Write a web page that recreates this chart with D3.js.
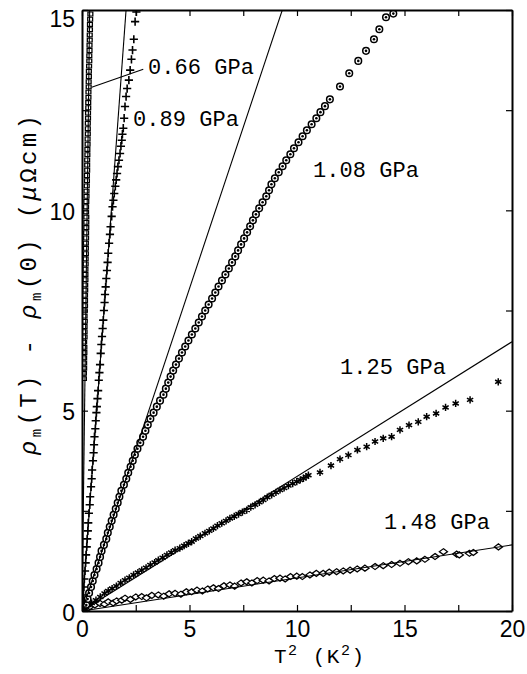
<!DOCTYPE html>
<html>
<head>
<meta charset="utf-8" />
<script src="https://d3js.org/d3.v7.min.js"></script>
<style>
  body { margin: 0; background: #fff; }
  text { fill: #000; }
</style>
</head>
<body>
<svg id="chart" width="527" height="674"></svg>
<script>
// ---- data: [T^2 (K^2), rho_m(T) - rho_m(0) (uOhm cm)] ----
var pressures = ["0.66 GPa", "0.89 GPa", "1.08 GPa", "1.25 GPa", "1.48 GPa"];
// slope A of the T^2 fit line for each pressure (uOhm cm / K^2)
var fitSlopes = [42, 7.32, 1.61, 0.336, 0.0825];

var squares066 = [
  [0.09,5.80],[0.09,5.93],[0.10,6.06],[0.10,6.19],[0.10,6.32],[0.11,6.45],[0.11,6.58],[0.10,6.71],
  [0.12,6.84],[0.12,6.97],[0.12,7.10],[0.13,7.23],[0.12,7.36],[0.13,7.49],[0.14,7.62],[0.14,7.75],
  [0.14,7.88],[0.15,8.01],[0.15,8.14],[0.16,8.27],[0.16,8.40],[0.16,8.53],[0.17,8.66],[0.17,8.79],
  [0.18,8.92],[0.18,9.05],[0.18,9.18],[0.19,9.31],[0.19,9.44],[0.20,9.57],[0.20,9.70],[0.20,9.83],
  [0.19,9.96],[0.19,10.09],[0.20,10.22],[0.21,10.35],[0.21,10.48],[0.22,10.61],[0.23,10.74],[0.23,10.87],
  [0.24,11.00],[0.24,11.13],[0.24,11.26],[0.25,11.39],[0.25,11.52],[0.26,11.65],[0.26,11.78],[0.27,11.91],
  [0.27,12.04],[0.27,12.17],[0.28,12.30],[0.28,12.43],[0.29,12.56],[0.29,12.69],[0.30,12.82],[0.30,12.95],
  [0.31,13.08],[0.31,13.21],[0.32,13.34],[0.32,13.47],[0.33,13.60],[0.34,13.73],[0.34,13.86],[0.35,13.99],
  [0.35,14.12],[0.36,14.25],[0.36,14.38],[0.37,14.51],[0.37,14.64],[0.38,14.77],[0.39,14.90]
];

var plus089 = [
  [0.03,0.10],[0.05,0.25],[0.07,0.40],[0.09,0.60],[0.11,0.80],[0.14,1.00],[0.17,1.20],[0.19,1.40],
  [0.22,1.60],[0.24,1.80],[0.27,2.00],[0.29,2.20],[0.32,2.44],[0.36,2.65],[0.38,2.85],[0.42,3.10],
  [0.45,3.30],[0.47,3.52],[0.51,3.75],[0.54,3.95],[0.56,4.15],[0.58,4.35],[0.62,4.55],[0.64,4.75],
  [0.67,4.95],[0.69,5.10],[0.72,5.30],[0.75,5.50],[0.78,5.76],[0.81,5.95],[0.84,6.15],[0.87,6.43],
  [0.90,6.65],[0.93,6.85],[0.96,7.05],[0.99,7.26],[1.02,7.50],[1.05,7.70],[1.07,7.90],[1.10,8.09],
  [1.13,8.30],[1.16,8.50],[1.19,8.70],[1.22,8.93],[1.26,9.18],[1.30,9.40],[1.33,9.59],[1.38,9.85],
  [1.42,10.09],[1.46,10.25],[1.50,10.42],[1.55,10.60],[1.59,10.76],[1.63,10.92],[1.67,11.09],[1.72,11.25],
  [1.77,11.42],[1.81,11.60],[1.85,11.75],[1.88,11.90],[1.92,12.05],[1.96,12.30],[2.00,12.59],[2.05,12.84],
  [2.10,13.04],[2.18,13.25],[2.24,13.50],[2.30,13.77],[2.35,14.00],[2.41,14.27],[2.47,14.71],[2.53,14.95]
];

var circles108 = [
  [0.20,0.15],[0.26,0.30],[0.33,0.45],[0.42,0.60],[0.50,0.75],[0.58,0.90],[0.68,1.05],[0.77,1.20],
  [0.84,1.35],[0.91,1.50],[1.02,1.65],[1.13,1.80],[1.20,1.95],[1.29,2.10],[1.38,2.25],[1.47,2.40],
  [1.57,2.55],[1.66,2.70],[1.74,2.85],[1.83,3.00],[1.95,3.15],[2.06,3.30],[2.15,3.45],[2.26,3.60],
  [2.36,3.75],[2.46,3.90],[2.58,4.05],[2.71,4.20],[2.84,4.35],[2.95,4.50],[3.06,4.65],[3.18,4.80],
  [3.33,4.95],[3.48,5.10],[3.63,5.25],[3.79,5.40],[3.90,5.55],[4.01,5.70],[4.12,5.85],[4.24,6.00],
  [4.37,6.15],[4.51,6.30],[4.65,6.45],[4.80,6.60],[4.95,6.75],[5.11,6.90],[5.27,7.05],[5.43,7.20],
  [5.58,7.35],[5.73,7.50],[5.89,7.65],[6.05,7.80],[6.20,7.95],[6.35,8.10],[6.51,8.25],[6.67,8.40],
  [6.83,8.55],[6.98,8.70],[7.13,8.85],[7.26,9.00],[7.40,9.15],[7.54,9.30],[7.68,9.45],[7.82,9.60],
  [7.95,9.75],[8.09,9.90],[8.24,10.05],[8.40,10.20],[8.57,10.35],[8.70,10.50],[8.81,10.65],[8.97,10.80],
  [9.15,10.95],[9.33,11.10],[9.50,11.25],[9.69,11.40],[9.86,11.55],[10.07,11.70],[10.26,11.85],[10.46,12.00],
  [10.68,12.15],[10.90,12.30],[11.09,12.45],[11.30,12.60],[11.53,12.77],
  [12.00,13.09],[12.43,13.42],[12.85,13.73],[13.21,13.98],[13.58,14.27],[13.83,14.52],[14.14,14.82],[14.48,14.91]
];

var stars125 = [
  [0.15,0.06],[0.29,0.15],[0.45,0.20],[0.65,0.27],[0.85,0.35],[1.05,0.44],[1.22,0.50],[1.40,0.56],
  [1.60,0.62],[1.80,0.70],[2.00,0.77],[2.20,0.83],[2.40,0.90],[2.60,0.96],[2.78,1.02],[2.98,1.08],
  [3.18,1.15],[3.38,1.21],[3.55,1.27],[3.75,1.33],[3.95,1.40],[4.15,1.46],[4.33,1.52],[4.55,1.57],
  [4.75,1.63],[4.95,1.69],[5.10,1.73],[5.30,1.81],[5.50,1.87],[5.72,1.94],[5.92,2.00],[6.11,2.06],
  [6.30,2.13],[6.50,2.19],[6.70,2.25],[6.88,2.31],[7.08,2.36],[7.28,2.42],[7.46,2.47],[7.66,2.52],
  [7.85,2.59],[8.05,2.65],[8.25,2.71],[8.43,2.77],[8.62,2.84],[8.82,2.90],[9.02,2.96],[9.21,3.02],
  [9.40,3.07],[9.60,3.13],[9.80,3.18],[9.99,3.23],[10.15,3.27],[10.30,3.31],[10.42,3.35],[10.53,3.39],
  [11.07,3.46],[11.58,3.63],[12.00,3.79],[12.39,3.89],[12.81,4.02],[13.24,4.10],[13.63,4.23],[14.01,4.31],
  [14.40,4.35],[14.79,4.52],[15.21,4.64],[15.64,4.72],[16.03,4.85],[16.47,4.93],[16.91,5.08],[17.38,5.18],
  [18.05,5.27],[19.36,5.72]
];

var diamonds148 = [
  [0.25,0.06],[0.37,0.11],[0.60,0.15],[0.84,0.19],[1.05,0.17],[1.22,0.23],[1.45,0.20],[1.61,0.25],
  [1.85,0.27],[2.00,0.32],[2.25,0.29],[2.50,0.35],[2.78,0.36],[3.00,0.33],[3.25,0.39],[3.55,0.40],
  [3.80,0.37],[4.05,0.43],[4.33,0.44],[4.60,0.42],[4.85,0.48],[5.10,0.48],[5.35,0.52],[5.60,0.50],
  [5.85,0.55],[6.11,0.58],[6.35,0.56],[6.60,0.63],[6.88,0.65],[7.10,0.62],[7.40,0.70],[7.66,0.73],
  [7.90,0.70],[8.15,0.76],[8.43,0.77],[8.70,0.75],[8.95,0.81],[9.21,0.82],[9.45,0.80],[9.70,0.86],
  [9.99,0.87],[10.25,0.86],[10.60,0.90],[10.90,0.94],[11.22,0.94],[11.50,0.97],[11.84,0.98],[12.15,1.00],
  [12.47,1.02],[12.80,1.05],[13.16,1.07],[13.63,1.11],[14.01,1.13],[14.40,1.16],[14.79,1.19],[15.18,1.23],
  [15.57,1.25],[15.95,1.29],[16.42,1.36],[16.81,1.48],[17.43,1.42],[17.55,1.40],[18.02,1.44],[18.20,1.46],
  [19.37,1.60]
];

var xTicks = [0, 2.5, 5, 7.5, 10, 12.5, 15, 17.5, 20];
var yTicks = [0, 2.5, 5, 7.5, 10, 12.5, 15];
var xLabelTicks = [0, 5, 10, 15, 20];
var yLabelTicks = [0, 5, 10, 15];

// ---- layout ----
var plotL = 82, plotR = 512, plotT = 10, plotB = 611;

var svg = d3.select("#chart");

var x = d3.scaleLinear().domain([0, 20]).range([plotL, plotR]);
var y = d3.scaleLinear().domain([0, 15]).range([plotB, plotT]);

svg.append("defs").append("clipPath").attr("id", "plotclip")
  .append("rect").attr("x", plotL).attr("y", plotT)
  .attr("width", plotR - plotL).attr("height", plotB - plotT);

var plot = svg.append("g").attr("clip-path", "url(#plotclip)");

// markers
function symbolSeries(data, type, size, sx, sy, sw) {
  var sym = d3.symbol().type(type).size(size);
  plot.append("g").selectAll("path").data(data).enter().append("path")
    .attr("d", sym)
    .attr("transform", function(d) {
      return "translate(" + x(d[0]) + "," + y(d[1]) + ") scale(" + sx + "," + sy + ")";
    })
    .attr("fill", "#fff")
    .attr("stroke", "#000")
    .attr("stroke-width", sw);
}

symbolSeries(diamonds148, d3.symbolDiamond2, 32, 1.15, 0.85, 1.3);
symbolSeries(stars125, d3.symbolAsterisk, 36, 1, 1, 1.5);

// circles with a dot in the middle
var cg = plot.append("g").selectAll("g").data(circles108).enter().append("g")
  .attr("transform", function(d) { return "translate(" + x(d[0]) + "," + y(d[1]) + ")"; });
cg.append("circle").attr("r", 3.3).attr("fill", "#fff").attr("stroke", "#000").attr("stroke-width", 1.5);
cg.append("circle").attr("r", 1.3).attr("fill", "#000");

symbolSeries(plus089, d3.symbolPlus, 24, 1, 1, 1.6);
symbolSeries(squares066, d3.symbolSquare2, 30, 1, 0.8, 1.3);

// T^2 fit lines through the origin
plot.append("g").selectAll("line").data(fitSlopes).enter().append("line")
  .attr("x1", x(0)).attr("y1", y(0))
  .attr("x2", x(20))
  .attr("y2", function(a) { return y(a * 20); })
  .attr("stroke", "#000")
  .attr("stroke-width", 1.1);

// ---- axes ----
function styleAxis(g) {
  g.selectAll(".domain").attr("stroke-width", 2);
  g.selectAll(".tick line").attr("stroke-width", 1.2);
  g.selectAll("text").attr("font-family", "'Liberation Sans', Arial, sans-serif")
    .attr("font-size", 23).attr("fill", "#000");
}

var fmtX = function(d) { return xLabelTicks.indexOf(d) >= 0 ? d : ""; };
var fmtY = function(d) { return yLabelTicks.indexOf(d) >= 0 ? d : ""; };

svg.append("g").attr("transform", "translate(0," + plotB + ")")
  .call(d3.axisBottom(x).tickValues(xTicks).tickFormat(fmtX).tickSizeInner(-6).tickSizeOuter(0).tickPadding(10))
  .call(styleAxis);
svg.append("g").attr("transform", "translate(0," + plotT + ")")
  .call(d3.axisTop(x).tickValues(xTicks).tickFormat("").tickSizeInner(-6).tickSizeOuter(0))
  .call(styleAxis);
var ya = svg.append("g").attr("transform", "translate(" + plotL + ",0)")
  .call(d3.axisLeft(y).tickValues(yTicks).tickFormat(fmtY).tickSizeInner(-6).tickSizeOuter(0).tickPadding(7))
  .call(styleAxis);
ya.selectAll("text").attr("dy", function(d) { return d === 15 ? "0.7em" : "0.4em"; });
svg.append("g").attr("transform", "translate(" + plotR + ",0)")
  .call(d3.axisRight(y).tickValues(yTicks).tickFormat("").tickSizeInner(-6).tickSizeOuter(0))
  .call(styleAxis);

// ---- series labels ----
var labelPos = [[148, 74], [133, 126], [313, 177], [340, 374], [384, 529]];
svg.append("g").selectAll("text").data(pressures).enter().append("text")
  .attr("x", function(d, i) { return labelPos[i][0]; })
  .attr("y", function(d, i) { return labelPos[i][1]; })
  .attr("font-family", "'Liberation Mono', 'DejaVu Sans Mono', monospace")
  .attr("font-size", 22)
  .attr("textLength", 106)
  .attr("lengthAdjust", "spacing")
  .text(function(d) { return d; });

// leader line from the 0.66 GPa label to its data
svg.append("line")
  .attr("x1", x(0.45)).attr("y1", y(13.07))
  .attr("x2", x(2.85)).attr("y2", y(13.52))
  .attr("stroke", "#000").attr("stroke-width", 1.1);

// ---- axis titles ----
var xt = svg.append("text")
  .attr("x", 274).attr("y", 663)
  .attr("font-family", "'Liberation Mono', 'DejaVu Sans Mono', monospace")
  .attr("font-size", 21)
  .attr("textLength", 90).attr("lengthAdjust", "spacing");
xt.append("tspan").text("T");
xt.append("tspan").attr("dy", -8).attr("font-size", 15).text("2");
xt.append("tspan").attr("dy", 8).text(" (K");
xt.append("tspan").attr("dy", -8).attr("font-size", 15).text("2");
xt.append("tspan").attr("dy", 8).text(")");

var yt = svg.append("text")
  .attr("transform", "translate(36,455) rotate(-90)")
  .attr("font-family", "'Liberation Mono', 'DejaVu Sans Mono', monospace")
  .attr("font-size", 24)
  .attr("textLength", 340).attr("lengthAdjust", "spacing");
yt.append("tspan").attr("font-style", "italic").text("ρ");
yt.append("tspan").attr("dy", 5).attr("font-size", 14).text("m");
yt.append("tspan").attr("dy", -5).text("(T) - ");
yt.append("tspan").attr("font-style", "italic").text("ρ");
yt.append("tspan").attr("dy", 5).attr("font-size", 14).text("m");
yt.append("tspan").attr("dy", -5).text("(0)  (");
yt.append("tspan").attr("font-style", "italic").text("μ");
yt.append("tspan").text("Ωcm)");
</script>
</body>
</html>
